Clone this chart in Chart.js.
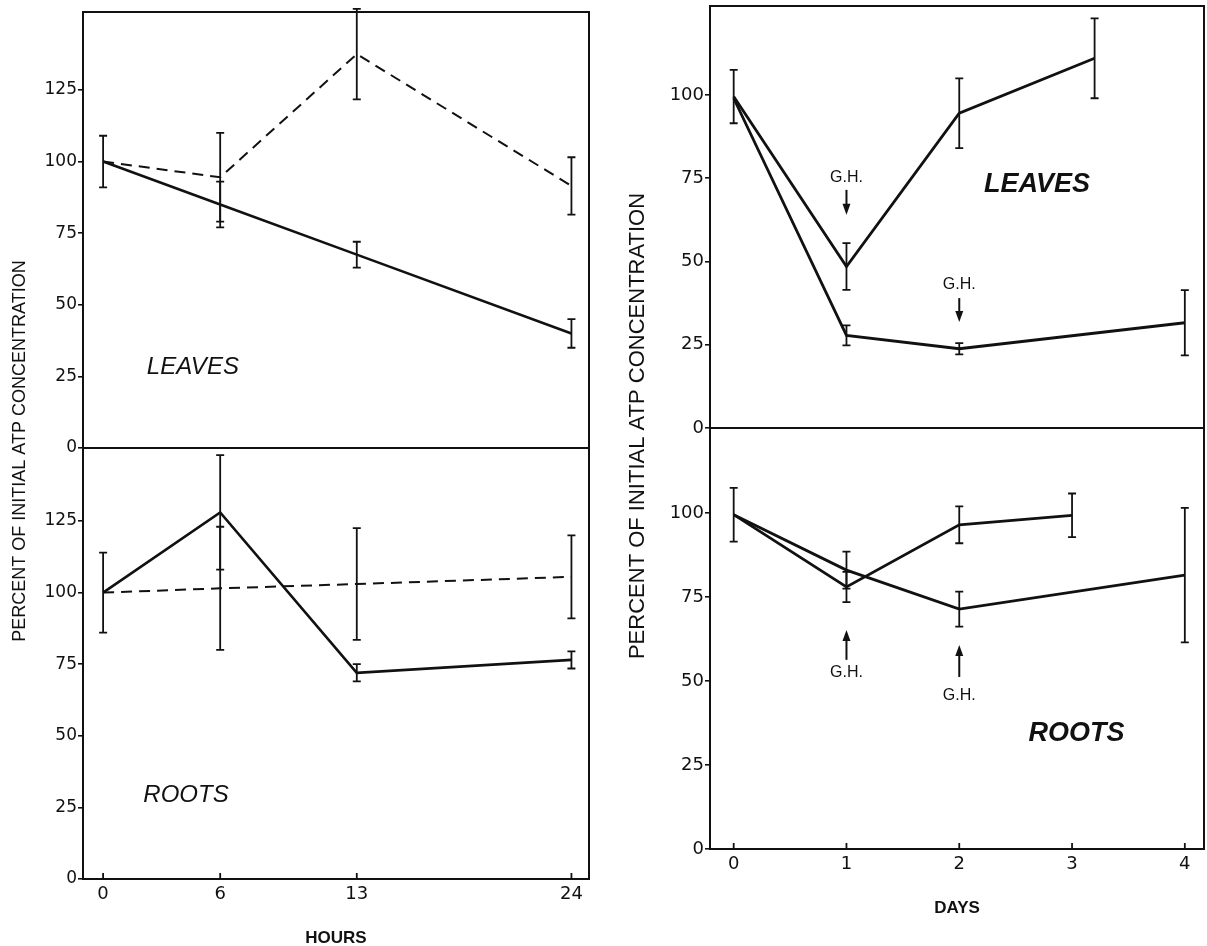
<!DOCTYPE html>
<html>
<head>
<meta charset="utf-8">
<script src="https://cdn.jsdelivr.net/npm/chart.js@4.4.1/dist/chart.umd.min.js"></script>
<style>
html, body { margin: 0; padding: 0; background: #fff; overflow: hidden; }
#wrap { position: relative; width: 1207px; height: 946px; }
canvas { position: absolute; left: 0; top: 0; }
</style>
</head>
<body>
<div id="wrap">
  <canvas id="leavesHours" width="1207" height="960"></canvas>
  <canvas id="rootsHours" width="1207" height="960"></canvas>
  <canvas id="leavesDays" width="1207" height="960"></canvas>
  <canvas id="rootsDays" width="1207" height="960"></canvas>
</div>
<script>
// ---- hours experiment (left figure) ----
var hours = [0, 6, 13, 24];
var hourTicks = [0, 6, 13, 24];
var leavesHoursSolid = [100, 85, 67.5, 40];
var leavesHoursSolidErr = [9, 8, 4.5, 5];
var leavesHoursDashed = [100, 94.5, 137.5, 91.5];
var leavesHoursDashedErr = [null, 15.5, 15.8, 10];
var rootsHoursSolid = [100, 128, 72, 76.5];
var rootsHoursSolidErr = [14, 20, 3, 3];
var rootsHoursDashed = [100, 101.5, 103, 105.5];
var rootsHoursDashedErr = [null, 21.5, 19.5, 14.5];

// ---- days experiment (right figure) ----
var dayTicks = [0, 1, 2, 3, 4];
var leavesDaysUpperX = [0, 1, 2, 3.2];
var leavesDaysUpper = [99.5, 48.5, 94.5, 111];
var leavesDaysUpperErr = [8, 7, 10.5, 12];
var leavesDaysLowerX = [0, 1, 2, 4];
var leavesDaysLower = [99, 27.8, 23.8, 31.6];
var leavesDaysLowerErr = [null, 3, 1.7, 9.8];
var rootsDaysUpperX = [0, 1, 2, 3];
var rootsDaysUpper = [99.5, 78, 96.5, 99.3];
var rootsDaysUpperErr = [8, 4.5, 5.5, 6.5];
var rootsDaysLowerX = [0, 1, 2, 4];
var rootsDaysLower = [99.5, 83, 71.4, 81.5];
var rootsDaysLowerErr = [null, 5.5, 5.2, 20];

var hourPercentTicks = [0, 25, 50, 75, 100, 125];
var dayPercentTicks = [0, 25, 50, 75, 100];
var yTitle = 'PERCENT OF INITIAL ATP CONCENTRATION';

var INK = '#111';

function pts(xs, ys) {
    return xs.map(function (x, i) { return { x: x, y: ys[i] }; });
}

function line(xs, ys, errs, dashed, width) {
    return {
        data: pts(xs, ys),
        errors: errs,
        borderColor: INK,
        borderWidth: width,
        borderDash: dashed ? [11, 7] : [],
        pointRadius: 0,
        tension: 0,
        fill: false
    };
}

// vertical error bars with caps, placed through the chart scales
var errorBars = {
    id: 'errorBars',
    afterDatasetsDraw: function (chart) {
        var ctx = chart.ctx, sx = chart.scales.x, sy = chart.scales.y;
        chart.data.datasets.forEach(function (ds) {
            if (!ds.errors) return;
            ctx.save();
            ctx.strokeStyle = INK;
            ctx.lineWidth = 1.8;
            ds.data.forEach(function (p, i) {
                var e = ds.errors[i];
                if (e == null) return;
                var px = sx.getPixelForValue(p.x);
                var t = sy.getPixelForValue(p.y + e);
                var b = sy.getPixelForValue(p.y - e);
                ctx.beginPath();
                ctx.moveTo(px, t); ctx.lineTo(px, b);
                ctx.moveTo(px - 4, t); ctx.lineTo(px + 4, t);
                ctx.moveTo(px - 4, b); ctx.lineTo(px + 4, b);
                ctx.stroke();
            });
            ctx.restore();
        });
    }
};

// box round the plot area, inner x ticks, labels, arrows
var notes = {
    id: 'notes',
    afterDraw: function (chart, args, opts) {
        var ctx = chart.ctx, a = chart.chartArea;
        var sx = chart.scales.x, sy = chart.scales.y;
        ctx.save();
        ctx.strokeStyle = INK;
        ctx.fillStyle = INK;
        ctx.lineWidth = 2;
        ctx.strokeRect(a.left, a.top, a.right - a.left, a.bottom - a.top);

        if (opts.innerTicks) {
            ctx.lineWidth = 1.8;
            sx.ticks.forEach(function (t) {
                var px = sx.getPixelForValue(t.value);
                ctx.beginPath();
                ctx.moveTo(px, a.bottom);
                ctx.lineTo(px, a.bottom - 6);
                ctx.stroke();
            });
        }

        ctx.textAlign = 'center';
        ctx.textBaseline = 'middle';
        (opts.labels || []).forEach(function (l) {
            ctx.font = l.font;
            ctx.fillText(l.text, sx.getPixelForValue(l.x), sy.getPixelForValue(l.y));
        });

        ctx.lineWidth = 2;
        (opts.arrows || []).forEach(function (ar) {
            var px = sx.getPixelForValue(ar.x);
            var y0 = sy.getPixelForValue(ar.from);
            var y1 = sy.getPixelForValue(ar.to);
            var dir = y1 > y0 ? 1 : -1;
            ctx.beginPath();
            ctx.moveTo(px, y0);
            ctx.lineTo(px, y1 - dir * 8);
            ctx.stroke();
            ctx.beginPath();
            ctx.moveTo(px, y1);
            ctx.lineTo(px - 4, y1 - dir * 11);
            ctx.lineTo(px + 4, y1 - dir * 11);
            ctx.closePath();
            ctx.fill();
        });

        if (opts.side) {
            ctx.save();
            ctx.translate(opts.side.x, a.top + opts.side.dy);
            ctx.rotate(-Math.PI / 2);
            ctx.font = opts.side.font;
            ctx.fillText(yTitle, 0, 0);
            ctx.restore();
        }
        ctx.restore();
    }
};

function zeroPad(s) {
    s.paddingTop = 0; s.paddingBottom = 0; s.paddingLeft = 0; s.paddingRight = 0;
}

function makeChart(id, cfg) {
    var showX = !!cfg.xTitle;
    return new Chart(document.getElementById(id), {
        type: 'line',
        data: { datasets: cfg.datasets },
        plugins: [errorBars, notes],
        options: {
            responsive: false,
            animation: false,
            events: [],
            layout: { padding: cfg.padding },
            plugins: {
                legend: { display: false },
                tooltip: { enabled: false },
                notes: cfg.notes
            },
            scales: {
                x: {
                    type: 'linear',
                    min: cfg.xMin,
                    max: cfg.xMax,
                    display: showX,
                    afterBuildTicks: function (s) {
                        s.ticks = cfg.xTicks.map(function (v) { return { value: v }; });
                    },
                    afterFit: function (s) { s.height = showX ? 70 : 0; zeroPad(s); },
                    grid: { display: false, drawTicks: false },
                    border: { display: true, color: INK, width: 2 },
                    ticks: {
                        color: INK, padding: 5, autoSkip: false, maxRotation: 0,
                        font: { family: 'DejaVu Sans', size: 18 }
                    },
                    title: {
                        display: showX,
                        text: cfg.xTitle,
                        color: INK,
                        padding: 0,
                        font: { family: 'Liberation Sans', size: 17, weight: 'bold' }
                    }
                },
                y: {
                    min: 0,
                    max: cfg.yMax,
                    afterBuildTicks: function (s) {
                        s.ticks = cfg.yTicks.map(function (v) { return { value: v }; });
                    },
                    afterFit: function (s) { s.width = 50; zeroPad(s); },
                    grid: { drawOnChartArea: false, drawTicks: true, tickLength: 5, color: INK, lineWidth: 1.6 },
                    border: { display: true, color: INK, width: 2 },
                    ticks: {
                        color: INK, padding: 1, autoSkip: false,
                        font: { family: 'DejaVu Sans', size: cfg.tickSize }
                    }
                }
            }
        }
    });
}

makeChart('leavesHours', {
    padding: { left: 33, top: 12, right: 618, bottom: 512 },
    xMin: -1.03, xMax: 24.9, xTicks: hourTicks, yMax: 152.2, yTicks: hourPercentTicks, tickSize: 17,
    datasets: [
        line(hours, leavesHoursSolid, leavesHoursSolidErr, false, 2.6),
        line(hours, leavesHoursDashed, leavesHoursDashedErr, true, 2)
    ],
    notes: {
        labels: [{ text: 'LEAVES', x: 4.6, y: 28.3, font: 'italic 24px "Liberation Sans"' }]
    }
});

makeChart('rootsHours', {
    padding: { left: 33, top: 448, right: 618, bottom: 11 },
    xMin: -1.03, xMax: 24.9, xTicks: hourTicks, yMax: 150.5, yTicks: hourPercentTicks, tickSize: 17,
    xTitle: 'HOURS',
    datasets: [
        line(hours, rootsHoursSolid, rootsHoursSolidErr, false, 2.6),
        line(hours, rootsHoursDashed, rootsHoursDashedErr, true, 2)
    ],
    notes: {
        innerTicks: true,
        labels: [{ text: 'ROOTS', x: 4.25, y: 29.3, font: 'italic 24px "Liberation Sans"' }],
        side: { x: 20, dy: 3, font: '18px "Liberation Sans"' }
    }
});

makeChart('leavesDays', {
    padding: { left: 660, top: 6, right: 3, bottom: 532 },
    xMin: -0.21, xMax: 4.17, xTicks: dayTicks, yMax: 126.7, yTicks: dayPercentTicks, tickSize: 18,
    datasets: [
        line(leavesDaysUpperX, leavesDaysUpper, leavesDaysUpperErr, false, 2.8),
        line(leavesDaysLowerX, leavesDaysLower, leavesDaysLowerErr, false, 2.8)
    ],
    notes: {
        labels: [
            { text: 'LEAVES', x: 2.69, y: 73, font: 'italic bold 27px "Liberation Sans"' },
            { text: 'G.H.', x: 1, y: 75.1, font: '16px "Liberation Sans"' },
            { text: 'G.H.', x: 2, y: 43, font: '16px "Liberation Sans"' }
        ],
        arrows: [
            { x: 1, from: 71.5, to: 64 },
            { x: 2, from: 39, to: 31.8 }
        ]
    }
});

makeChart('rootsDays', {
    padding: { left: 660, top: 428, right: 3, bottom: 41 },
    xMin: -0.21, xMax: 4.17, xTicks: dayTicks, yMax: 125.3, yTicks: dayPercentTicks, tickSize: 18,
    xTitle: 'DAYS',
    datasets: [
        line(rootsDaysUpperX, rootsDaysUpper, rootsDaysUpperErr, false, 2.8),
        line(rootsDaysLowerX, rootsDaysLower, rootsDaysLowerErr, false, 2.8)
    ],
    notes: {
        innerTicks: true,
        labels: [
            { text: 'ROOTS', x: 3.04, y: 34.4, font: 'italic bold 27px "Liberation Sans"' },
            { text: 'G.H.', x: 1, y: 52.4, font: '16px "Liberation Sans"' },
            { text: 'G.H.', x: 2, y: 45.8, font: '16px "Liberation Sans"' }
        ],
        arrows: [
            { x: 1, from: 56.3, to: 65.2 },
            { x: 2, from: 51.2, to: 60.7 }
        ],
        side: { x: 638, dy: -2, font: '22px "Liberation Sans"' }
    }
});
</script>
</body>
</html>
